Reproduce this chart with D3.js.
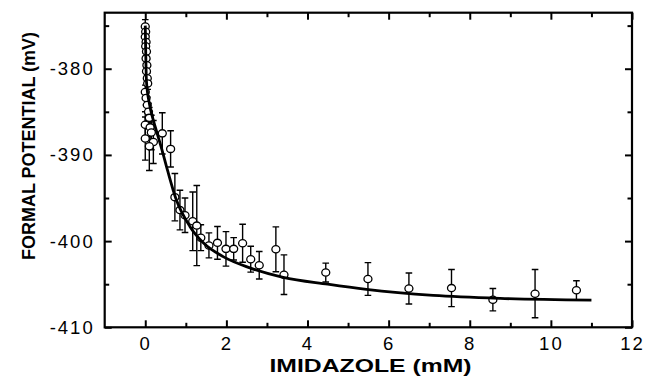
<!DOCTYPE html>
<html>
<head>
<meta charset="utf-8">
<script src="https://cdn.jsdelivr.net/npm/d3@7"></script>
<style>
  body { margin: 0; background: #fff; }
  svg { display: block; }
  text { font-family: "Liberation Sans", Arial, Helvetica, sans-serif; fill: #000; }
</style>
</head>
<body>
<svg id="chart" width="647" height="379"></svg>
<script>
// measured points: imidazole (mM), formal potential (mV), half error bar (mV)
const imidazole = [
  0.00, 0.01, 0.00, 0.02, 0.01, 0.03, 0.02, 0.04, 0.03, 0.05, 0.06,
  0.00, 0.02, 0.05, 0.08, 0.10, 0.00, 0.12, 0.15, 0.00, 0.20, 0.10,
  0.42, 0.625, 0.73, 0.855, 0.98, 1.17, 1.27, 1.37, 1.57, 1.78, 1.99, 2.18,
  2.40, 2.60, 2.81, 3.22, 3.42, 4.45, 5.49, 6.50, 7.55, 8.57, 9.61, 10.63
];
const potential = [
  -375.1, -375.7, -376.3, -376.9, -377.4, -378.0, -378.8, -379.6, -380.3, -381.1, -381.7,
  -382.7, -383.4, -384.2, -385.0, -385.7, -386.5, -386.8, -387.4, -388.1, -388.5, -389.0,
  -387.5, -389.3, -394.9, -396.4, -397.0, -397.7, -398.2, -399.6, -400.5, -400.2, -400.9, -400.9,
  -400.25, -402.1, -402.8, -400.95, -403.9, -403.65, -404.4, -405.5, -405.45, -406.8, -406.1, -405.7
];
const errorBar = [
  0.8, 0.8, 0.7, 0.8, 0.6, 0.7, 0.6, 0.7, 0.6, 0.6, 0.7,
  0.8, 0.8, 0.9, 1.0, 1.2, 1.5, 1.5, 2.0, 2.5, 2.5, 2.8,
  2.4, 2.1, 2.75, 2.3, 2.0, 3.4, 4.65, 1.5, 1.45, 1.9, 2.0, 1.3,
  2.2, 1.5, 1.6, 2.6, 2.3, 1.1, 1.9, 1.8, 2.15, 1.3, 2.8, 1.1
];

// fitted curve
const fitX = [0.0, 0.03, 0.1, 0.2, 0.3, 0.4, 0.55, 0.75, 1.1, 1.43, 1.92, 2.58, 3.4, 4.5, 5.45, 7.1, 8.75, 11.0];
const fitY = [-375, -381.5, -384, -386, -387.6, -389.2, -391.8, -395.0, -398.3, -400.2, -401.8, -403.1, -404.2, -405.0, -405.6, -406.3, -406.65, -406.85];

const xMajor = [0, 2, 4, 6, 8, 10, 12];
const xMinor = [1, 3, 5, 7, 9, 11];
const yMajor = [-410, -400, -390, -380];
const yMinor = [-405, -395, -385, -375];

const plotLeft = 104.7, plotRight = 632, plotTop = 12.7, plotBottom = 327.3;

const svg = d3.select('#chart');
const x = d3.scaleLinear().domain([-1, 12]).range([plotLeft, plotRight]);
const y = d3.scaleLinear().domain([-410, -373.5]).range([plotBottom, plotTop]);

svg.append('defs').append('clipPath').attr('id', 'plot')
  .append('rect').attr('x', plotLeft).attr('y', plotTop)
  .attr('width', plotRight - plotLeft).attr('height', plotBottom - plotTop);

const points = imidazole.map((v, i) => ({ x: v, y: potential[i], e: errorBar[i] }));

const plot = svg.append('g').attr('clip-path', 'url(#plot)');

// error bars
const bars = plot.append('g').attr('stroke', '#000').attr('stroke-width', 1.4)
  .selectAll('g').data(points).join('g');
bars.append('line')
  .attr('x1', (d) => x(d.x)).attr('x2', (d) => x(d.x))
  .attr('y1', (d) => y(d.y + d.e)).attr('y2', (d) => y(d.y - d.e));
bars.append('line')
  .attr('x1', (d) => x(d.x) - 3.3).attr('x2', (d) => x(d.x) + 3.3)
  .attr('y1', (d) => y(d.y + d.e)).attr('y2', (d) => y(d.y + d.e));
bars.append('line')
  .attr('x1', (d) => x(d.x) - 3.3).attr('x2', (d) => x(d.x) + 3.3)
  .attr('y1', (d) => y(d.y - d.e)).attr('y2', (d) => y(d.y - d.e));

// open markers
plot.append('g').selectAll('ellipse').data(points).join('ellipse')
  .attr('cx', (d) => x(d.x)).attr('cy', (d) => y(d.y))
  .attr('rx', 4).attr('ry', 3.6)
  .attr('fill', '#fff').attr('stroke', '#000').attr('stroke-width', 1.3);

// fit line
const fit = fitX.map((v, i) => [v, fitY[i]]);
plot.append('path').datum(fit)
  .attr('fill', 'none').attr('stroke', '#000').attr('stroke-width', 2.8)
  .attr('d', d3.line().x((d) => x(d[0])).y((d) => y(d[1])).curve(d3.curveMonotoneX));

// axes with inward ticks
function styleAxis(g) {
  g.select('.domain').remove();
  g.selectAll('.tick line').attr('stroke', '#000').attr('stroke-width', 2);
  g.selectAll('.tick text').attr('font-size', 18.5).attr('letter-spacing', 2).attr('font-family', null);
}
const plain = (d) => String(d);

svg.append('g').attr('transform', `translate(0,${plotBottom})`)
  .call(d3.axisBottom(x).tickValues(xMajor).tickFormat(plain).tickSize(-7).tickSizeOuter(0).tickPadding(10))
  .call(styleAxis);
svg.append('g').attr('transform', `translate(0,${plotBottom})`)
  .call(d3.axisBottom(x).tickValues(xMinor).tickSize(-4.5).tickSizeOuter(0).tickFormat(''))
  .call(styleAxis);
svg.append('g').attr('transform', `translate(0,${plotTop})`)
  .call(d3.axisTop(x).tickValues(xMajor).tickSize(-7).tickSizeOuter(0).tickFormat(''))
  .call(styleAxis);
svg.append('g').attr('transform', `translate(0,${plotTop})`)
  .call(d3.axisTop(x).tickValues(xMinor).tickSize(-4.5).tickSizeOuter(0).tickFormat(''))
  .call(styleAxis);

svg.append('g').attr('transform', `translate(${plotLeft},0)`)
  .call(d3.axisLeft(y).tickValues(yMajor).tickFormat(plain).tickSize(-7).tickSizeOuter(0).tickPadding(10))
  .call(styleAxis);
svg.append('g').attr('transform', `translate(${plotLeft},0)`)
  .call(d3.axisLeft(y).tickValues(yMinor).tickSize(-4.5).tickSizeOuter(0).tickFormat(''))
  .call(styleAxis);
svg.append('g').attr('transform', `translate(${plotRight},0)`)
  .call(d3.axisRight(y).tickValues(yMajor).tickSize(-7).tickSizeOuter(0).tickFormat(''))
  .call(styleAxis);
svg.append('g').attr('transform', `translate(${plotRight},0)`)
  .call(d3.axisRight(y).tickValues(yMinor).tickSize(-4.5).tickSizeOuter(0).tickFormat(''))
  .call(styleAxis);

// frame
svg.append('rect')
  .attr('x', plotLeft).attr('y', plotTop)
  .attr('width', plotRight - plotLeft).attr('height', plotBottom - plotTop)
  .attr('fill', 'none').attr('stroke', '#000').attr('stroke-width', 2.2);

// titles
svg.append('text')
  .attr('x', 370.5).attr('y', 372)
  .attr('text-anchor', 'middle').attr('font-weight', 'bold').attr('font-size', 17.5)
  .attr('textLength', 202).attr('lengthAdjust', 'spacingAndGlyphs')
  .text('IMIDAZOLE (mM)');

svg.append('text')
  .attr('transform', 'translate(35,146) rotate(-90)')
  .attr('text-anchor', 'middle').attr('font-weight', 'bold').attr('font-size', 18.5)
  .attr('textLength', 228).attr('lengthAdjust', 'spacingAndGlyphs')
  .text('FORMAL POTENTIAL (mV)');
</script>
</body>
</html>
